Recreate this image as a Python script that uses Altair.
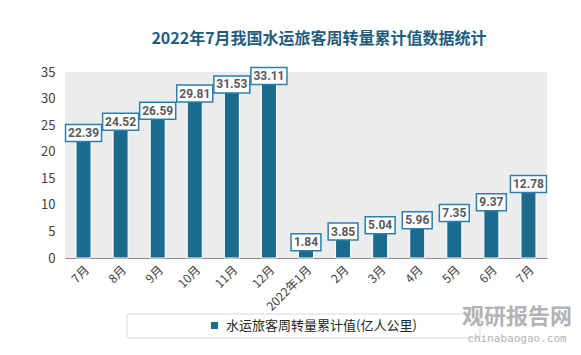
import json
import altair as alt
import pandas as pd

months = ["7月", "8月", "9月", "10月", "11月", "12月", "2022年1月",
          "2月", "3月", "4月", "5月", "6月", "7月"]
values = [22.39, 24.52, 26.59, 29.81, 31.53, 33.11, 1.84,
          3.85, 5.04, 5.96, 7.35, 9.37, 12.78]
series_name = "水运旅客周转量累计值(亿人公里)"
title_text = "2022年7月我国水运旅客周转量累计值数据统计"
y_ticks = [0, 5, 10, 15, 20, 25, 30, 35]
wm_cn = "观研报告网"
wm_en = "chinabaogao.com"

BAR = "#1c6a8e"
BOX = "#2b7fae"
FONT = "Noto Sans CJK SC"

df = pd.DataFrame({
    "idx": list(range(len(months))),
    "month": months,
    "value": values,
    "series": [series_name] * len(months),
})
df["label"] = df["value"].map(lambda v: f"{v:.2f}")

label_expr = json.dumps(months, ensure_ascii=False) + "[datum.value]"

x_enc = alt.X(
    "idx:O",
    scale=alt.Scale(paddingInner=0, paddingOuter=0),
    axis=alt.Axis(
        title=None, labelExpr=label_expr, labelAngle=-45,
        labelFontSize=12, labelColor="#404040", labelFont=FONT,
        domainColor="#8c8c8c", domainWidth=1, ticks=False, labelPadding=6,
        labelOverlap=False,
    ),
)
y_enc = alt.Y(
    "value:Q",
    scale=alt.Scale(domain=[0, 35], nice=False),
    axis=alt.Axis(
        title=None, values=y_ticks, tickCount=8, grid=False, domain=False,
        ticks=False, labelFontSize=13, labelColor="#404040", labelPadding=10,
        labelFont=FONT, labelOverlap=False, labelFlush=False,
    ),
)

base = alt.Chart(df)

bars = base.mark_bar(size=15, stroke="white", strokeWidth=1).encode(
    x=x_enc,
    y=y_enc,
    color=alt.Color(
        "series:N",
        scale=alt.Scale(range=[BAR]),
        legend=alt.Legend(
            title=None, orient="none", legendX=143, legendY=247,
            symbolType="square", symbolSize=49, symbolStrokeWidth=0,
            labelFontSize=13, labelColor="#262626", labelFont=FONT,
            labelOffset=5, padding=0, labelLimit=400,
        ),
    ),
)

wide = "M-1,-0.47H1V0.47H-1Z"
narrow = "M-0.83,-0.47H0.83V0.47H-0.83Z"

boxes = base.mark_point(
    filled=True, fill="white", stroke=BOX, strokeWidth=1.5,
    opacity=1, size=1296, yOffset=-6,
).encode(
    x=x_enc,
    y=y_enc,
    shape=alt.condition(alt.datum.value >= 10, alt.value(wide), alt.value(narrow)),
)

texts = base.mark_text(
    fontSize=12, fontWeight="bold", color="#595959", font="Roboto",
    baseline="middle", yOffset=-6,
).encode(x=x_enc, y=y_enc, text="label:N")

one = pd.DataFrame({"a": [0]})

legend_box = alt.Chart(one).mark_rect(
    fill="white", stroke="#d9d9d9", strokeWidth=1
).encode(
    x=alt.value(62), x2=alt.value(415), y=alt.value(242), y2=alt.value(266)
)

wm1 = alt.Chart(one).mark_text(
    text=wm_cn, fontSize=22, fontWeight="bold", color="#b3b3b3", font=FONT,
    baseline="middle", align="center",
).encode(x=alt.value(452), y=alt.value(245))

wm2 = alt.Chart(one).mark_text(
    text=wm_en, fontSize=11, color="#b3b3b3", font="DejaVu Sans Mono",
    baseline="middle", align="center",
).encode(x=alt.value(452), y=alt.value(267))

chart = alt.layer(bars, boxes, texts, legend_box, wm1, wm2).properties(
    width=482,
    height=186,
    title=alt.Title(
        title_text, fontSize=16, fontWeight="bold", color="#1f5d7e",
        font=FONT, anchor="middle", dx=13, offset=18,
    ),
    autosize=alt.AutoSizeParams(type="none"),
    padding={"left": 57, "top": 64, "right": 26, "bottom": 89},
    background="white",
).configure_view(fill="#ececec", strokeWidth=0)

chart.save("out.html", embed_options={"renderer": "svg", "actions": False})
